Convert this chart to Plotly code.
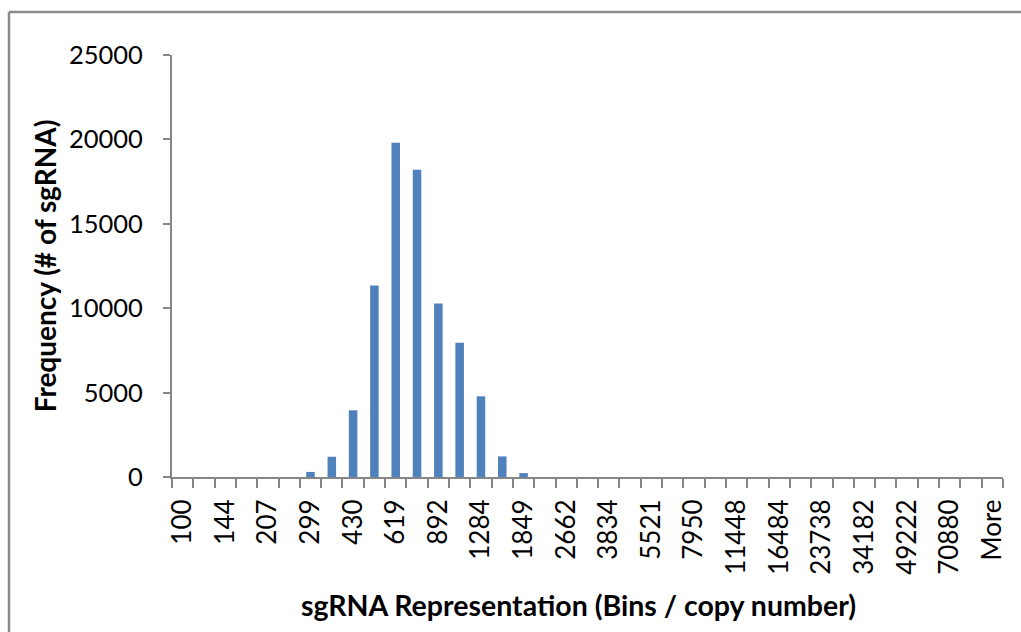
import plotly.graph_objects as go

# Histogram bins (upper bin edges, factor 1.2) and frequencies
bins = ["100", "120", "144", "173", "207", "249", "299", "358", "430", "516",
        "619", "743", "892", "1070", "1284", "1541", "1849", "2219", "2662", "3195",
        "3834", "4601", "5521", "6625", "7950", "9540", "11448", "13737", "16484", "19781",
        "23738", "28485", "34182", "41018", "49222", "59066", "70880", "85056", "More"]
frequency = [0, 0, 0, 0, 0, 0, 300, 1200, 3950, 11350,
             19800, 18200, 10280, 7950, 4780, 1220, 230, 0, 0, 0,
             0, 0, 0, 0, 0, 0, 0, 0, 0, 0,
             0, 0, 0, 0, 0, 0, 0, 0, 0]
shown_labels = ["100", "144", "207", "299", "430", "619", "892", "1284", "1849", "2662",
                "3834", "5521", "7950", "11448", "16484", "23738", "34182", "49222", "70880", "More"]
y_ticks = [0, 5000, 10000, 15000, 20000, 25000]
x_title = "sgRNA Representation (Bins / copy number)"
y_title = "Frequency (# of sgRNA)"

W, H = 1021, 632
L, R, T, B = 172, 18, 55, 155
pw, ph = W - L - R, H - T - B

def px(x):
    return (x - L) / pw

def py(y):
    return (H - B - y) / ph

ticktext = [b if b in shown_labels else "" for b in bins]

fig = go.Figure(go.Bar(x=bins, y=frequency, marker=dict(color="#4F81BD", line=dict(width=0))))

axis_col = "#878787"
fig.update_layout(
    width=W, height=H,
    margin=dict(l=L, r=R, t=T, b=B, autoexpand=False),
    paper_bgcolor="white", plot_bgcolor="white",
    bargap=0.6,
    showlegend=False,
    font=dict(family="Lato", color="black"),
    xaxis=dict(
        type="category", range=[-0.5, len(bins) - 0.5],
        tickmode="array", tickvals=bins, ticktext=ticktext,
        tickson="boundaries", ticks="outside", ticklen=9, tickwidth=2, tickcolor=axis_col,
        showline=True, linecolor=axis_col, linewidth=2, showgrid=False, zeroline=False,
        tickangle=-90, tickfont=dict(size=26, family="Lato", color="black"),
        ticklabelstandoff=10,
    ),
    yaxis=dict(
        range=[0, 25000], tickmode="array", tickvals=y_ticks,
        ticktext=[str(v) for v in y_ticks],
        ticks="outside", ticklen=7, tickwidth=2, tickcolor=axis_col,
        showline=True, linecolor=axis_col, linewidth=2, showgrid=False, zeroline=False,
        tickfont=dict(size=25.5, family="Lato", color="black"),
        ticklabelstandoff=15,
        title=dict(text="<b>" + y_title + "</b>",
                   font=dict(size=28, family="Lato", color="black"), standoff=4),
    ),
    annotations=[
        dict(text="<b>" + x_title + "</b>", xref="paper", yref="paper",
             x=px(578), y=py(605), xanchor="center", yanchor="middle", showarrow=False,
             font=dict(size=28.5, family="Lato", color="black")),
    ],
    shapes=[
        dict(type="line", xref="paper", yref="paper", x0=px(9), x1=px(W + 10), y0=py(12), y1=py(12),
             line=dict(color="#8a8a8a", width=2.5)),
        dict(type="line", xref="paper", yref="paper", x0=px(9), x1=px(9), y0=py(12), y1=py(H + 10),
             line=dict(color="#8a8a8a", width=2.5)),
    ],
)

fig.write_html("out.html", config={"displayModeBar": False},
               post_script="document.body.style.margin='0';document.body.style.overflow='hidden';")
